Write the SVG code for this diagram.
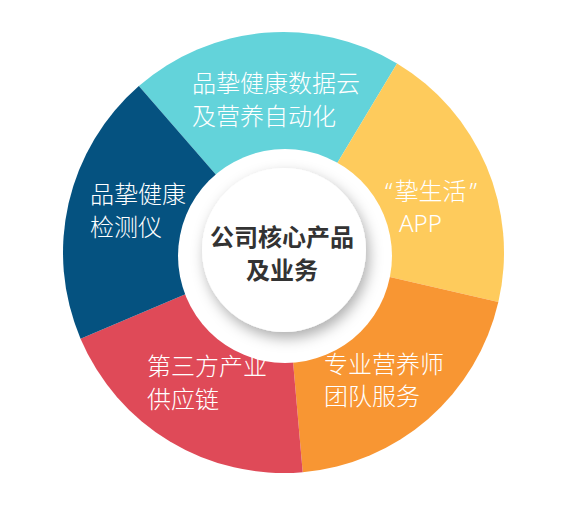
<svg xmlns="http://www.w3.org/2000/svg" width="564" height="506" viewBox="0 0 564 506">
  <defs>
    <filter id="discShadow" x="-30%" y="-30%" width="160%" height="160%">
      <feDropShadow dx="3" dy="6" stdDeviation="7" flood-color="#000" flood-opacity="0.32"/>
    </filter>
    <style>
      .lbl { font-family: "Noto Sans CJK SC", "Noto Sans", sans-serif; font-size: 24px; font-weight: 300; fill: #ffffff; }
      .lat { font-family: "Noto Sans", "Liberation Sans", sans-serif; font-size: 24px; font-weight: 300; fill: #ffffff; }
      .q { font-family: "Noto Sans", "Liberation Sans", sans-serif; font-weight: 300; }
      .ctr { font-family: "Noto Sans CJK SC", sans-serif; font-size: 24px; font-weight: bold; fill: #333333; text-anchor: middle; }
    </style>
  </defs>
  <rect width="564" height="506" fill="#ffffff"/>

  <g id="seg-cloud">
    <path d="M283.5 252.5 L138.84 86.09 A220.5 220.5 0 0 1 397.06 63.49 Z" fill="#63D3DA"/>
    <text class="lbl" x="192" y="92">品挚健康数据云</text>
    <text class="lbl" x="192" y="125">及营养自动化</text>
  </g>
  <g id="seg-app">
    <path d="M283.5 252.5 L397.06 63.49 A220.5 220.5 0 0 1 498.35 302.11 Z" fill="#FECB5C"/>
    <text class="lbl" x="385" y="200"><tspan class="q">“</tspan><tspan dx="2">挚生活</tspan><tspan class="q" dx="3">”</tspan></text>
    <text class="lat" x="399" y="232">APP</text>
  </g>
  <g id="seg-team">
    <path d="M283.5 252.5 L498.35 302.11 A220.5 220.5 0 0 1 302.72 472.16 Z" fill="#F89633"/>
    <text class="lbl" x="324" y="373">专业营养师</text>
    <text class="lbl" x="324" y="405">团队服务</text>
  </g>
  <g id="seg-supply">
    <path d="M283.5 252.5 L302.72 472.16 A220.5 220.5 0 0 1 80.53 338.65 Z" fill="#DF4A58"/>
    <text class="lbl" x="147" y="375">第三方产业</text>
    <text class="lbl" x="147" y="408">供应链</text>
  </g>
  <g id="seg-device">
    <path d="M283.5 252.5 L80.53 338.65 A220.5 220.5 0 0 1 138.84 86.09 Z" fill="#055280"/>
    <text class="lbl" x="90" y="203">品挚健康</text>
    <text class="lbl" x="90" y="236">检测仪</text>
  </g>

  <g id="center">
    <circle cx="285" cy="256" r="107" fill="#ffffff"/>
    <circle cx="284" cy="250" r="82" fill="#ffffff" filter="url(#discShadow)"/>
    <text class="ctr" x="282" y="246">公司核心产品</text>
    <text class="ctr" x="282" y="279">及业务</text>
  </g>
</svg>
